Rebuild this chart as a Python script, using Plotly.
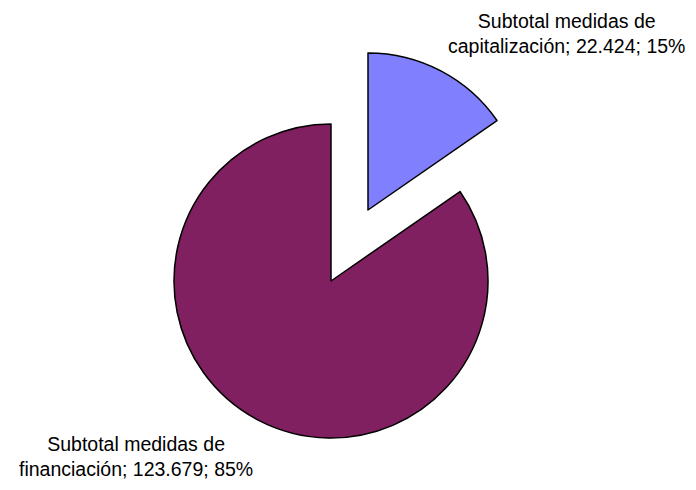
import plotly.graph_objects as go

labels = ["Subtotal medidas de capitalización", "Subtotal medidas de financiación"]
values = [22.424, 123.679]
value_text = ["22.424", "123.679"]
pct_text = ["15%", "85%"]
colors = ["#8080FF", "#802060"]

W, H = 696, 490
R = 157
main_c = (331, 281)
pulled_c = (368, 210)

def dom(c):
    x0, y0 = c[0] - R, c[1] - R
    x1, y1 = c[0] + R, c[1] + R
    return dict(x=[x0 / W, x1 / W], y=[1 - y1 / H, 1 - y0 / H])

fig = go.Figure()
# main pie (financing slice visible)
fig.add_trace(go.Pie(
    labels=labels, values=values, sort=False, direction="clockwise", rotation=0,
    marker=dict(colors=["rgba(0,0,0,0)", colors[1]],
                line=dict(color=["rgba(0,0,0,0)", "black"], width=[0, 1.5])),
    textinfo="none", hoverinfo="label+value+percent", domain=dom(main_c), showlegend=False,
))
# exploded capitalization slice
fig.add_trace(go.Pie(
    labels=labels, values=values, sort=False, direction="clockwise", rotation=0,
    marker=dict(colors=[colors[0], "rgba(0,0,0,0)"],
                line=dict(color=["black", "rgba(0,0,0,0)"], width=[1.5, 0])),
    textinfo="none", hoverinfo="label+value+percent", domain=dom(pulled_c), showlegend=False,
))

def label_text(i):
    name = labels[i]
    head, tail = name.rsplit(" ", 1)
    return f"{head}<br>{tail}; {value_text[i]}; {pct_text[i]}"

fnt = dict(family="Liberation Sans, Arial, sans-serif", size=19.5, color="black")
fig.add_annotation(x=566 / W, y=1 - 33 / H, xref="paper", yref="paper",
                   text=label_text(0), showarrow=False, font=fnt, align="center",
                   xanchor="center", yanchor="middle")
fig.add_annotation(x=136 / W, y=1 - 456 / H, xref="paper", yref="paper",
                   text=label_text(1), showarrow=False, font=fnt, align="center",
                   xanchor="center", yanchor="middle")

fig.update_layout(width=W, height=H, margin=dict(l=0, r=0, t=0, b=0),
                  paper_bgcolor="white", plot_bgcolor="white")
fig.write_html("out.html")
